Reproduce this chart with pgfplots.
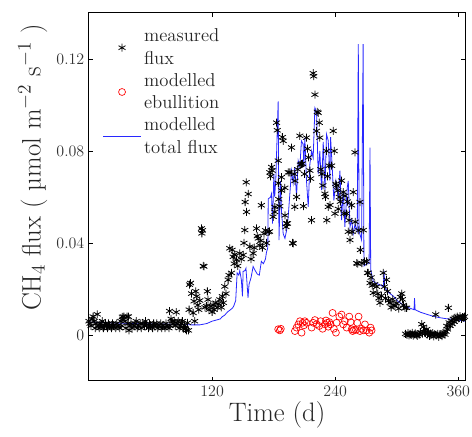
\documentclass[border=0pt]{standalone}
\usepackage{pgfplots}
\pgfplotsset{compat=1.18}
\definecolor{modelblue}{RGB}{40,40,255}
\definecolor{ebured}{RGB}{255,0,0}
\pgfplotsset{
  markleg/.style={legend image code/.code={\path (0cm,0cm) (1cm,0cm); \draw[##1] plot coordinates {(0.5cm,0cm)};}},
  lineleg/.style={legend image code/.code={\draw[##1] (0cm,0cm) -- (1cm,0cm);}},
}

\begin{document}
\begin{tikzpicture}
\begin{axis}[
  scale only axis, width=282pt, height=276pt,
  xmin=0, xmax=366.5, ymin=-0.02, ymax=0.14,
  xtick={120,240,360},
  ytick={0,0.04,0.08,0.12}, yticklabels={0,0.04,0.08,0.12},
  tick align=inside, tick pos=both, major tick length=3pt,
  axis line style={line width=0.75pt},
  tick style={line width=0.6pt, black},
  tick label style={font=\fontsize{12}{13}\selectfont, text=black!80},
  label style={font=\fontsize{20}{22}\selectfont, text=black!85},
  xlabel={Time (d)},
  ylabel={CH$_4$ flux ( µmol m$^{-2}$ s$^{-1}$ )},
  ylabel style={at={(ticklabel cs:0.58)}},
  xlabel style={yshift=3pt},
  legend style={draw=none, fill=none, at={(0.025,0.972)}, anchor=north west,
    font=\fontsize{14}{17}\selectfont, text=black!85, cells={align=left},
    row sep=1pt},
  legend cell align=left,
]
% measured flux
\addplot[only marks, mark=asterisk, mark size=3pt, black, line width=0.6pt, markleg]
coordinates {
(0,0.006)(1,0.005)(2,0.004)(3,0.007)(4,0.008)(5,0.006)(6,0.003)(7,0.005)(8,0.009)(9,0.004)
(10,0.003)(11,0.005)(12,0.004)(13,0.006)(14,0.003)(15,0.004)(16,0.005)(17,0.004)(18,0.003)(19,0.005)
(20,0.004)(22,0.003)(23,0.005)(24,0.004)(26,0.003)(27,0.005)(28,0.004)(30,0.003)(31,0.006)(32,0.004)
(32.5,0.0079)(33,0.007)(34,0.008)(35,0.006)(36,0.003)(37,0.008)(38,0.005)(38.4,0.008)(39,0.002)(40,0.004)
(41,0.005)(42,0.003)(44,0.004)(45,0.005)(46,0.006)(47,0.003)(48,0.004)(50,0.005)(51,0.003)(52,0.005)
(54,0.004)(55,0.006)(56,0.004)(58,0.003)(59,0.005)(60,0.004)(62,0.003)(63,0.005)(64,0.004)(66,0.005)
(67,0.003)(68,0.004)(70,0.005)(71,0.003)(72,0.004)(74,0.003)(75,0.005)(76,0.004)(78,0.003)(78.5,0.0104)
(79,0.004)(80,0.007)(81,0.006)(82,0.005)(83,0.006)(84,0.004)(85,0.0099)(86,0.005)(87,0.006)(88,0.003)
(89,0.004)(90,0.005)(91,0.006)(92,0.003)(93,0.004)(94,0.0025)(95,0.002)(96,0.0053)(97,0.002)(97.6,0.011)
(98,0.0219)(99,0.0226)(100,0.018)(101.5,0.0096)(102.4,0.0147)(103,0.006)(104,0.019)(105,0.0168)(106,0.013)(107,0.011)
(108,0.015)(109.6,0.0463)(110,0.0442)(110.6,0.0455)(111.3,0.030)(112,0.0298)(113,0.012)(114.5,0.0125)(115.4,0.019)(116,0.0154)
(117,0.011)(118.7,0.0125)(120,0.010)(121,0.013)(122,0.011)(123.6,0.014)(125,0.012)(126,0.0135)(127.5,0.0154)(129,0.012)
(130,0.0168)(131,0.014)(132.4,0.0211)(133.5,0.018)(135.6,0.024)(136.5,0.026)(137.2,0.0377)(138.9,0.027)(139.5,0.037)(140.5,0.034)
(141.5,0.031)(142,0.035)(143.8,0.0326)(145,0.030)(147,0.0355)(148.5,0.033)(150.3,0.0348)(151,0.040)(151.9,0.0456)(153.5,0.0535)
(152.2,0.0578)(155.2,0.0613)(153.2,0.0664)(156.8,0.0384)(158,0.033)(160,0.0355)(161,0.038)(163.3,0.0463)(164,0.043)(165,0.042)
(166.5,0.039)(167.5,0.041)(168,0.0564)(169,0.038)(170.5,0.0441)(172,0.0455)(173,0.040)(174.7,0.0448)(176,0.045)(176.3,0.0707)
(177,0.069)(178,0.073)(178.5,0.0715)(179.5,0.0514)(181.1,0.0535)(181.2,0.0556)(182.8,0.0923)(183.5,0.089)(184.4,0.0758)(184.6,0.066)
(185,0.059)(186,0.056)(187.6,0.0686)(187.7,0.0628)(188.5,0.086)(189.3,0.0844)(190.9,0.064)(191,0.052)(192,0.047)(192.5,0.0485)
(193.5,0.0485)(194.2,0.0707)(195.8,0.0707)(197.4,0.0815)(198.5,0.040)(199,0.0398)(200,0.070)(200.6,0.0557)(200.7,0.067)(202.3,0.060)
(203.5,0.072)(205.5,0.0866)(206,0.074)(207.1,0.0743)(208,0.0745)(209,0.056)(210,0.070)(212,0.0858)(213,0.081)(214,0.0772)
(215.3,0.0715)(216,0.068)(216.9,0.0499)(218.5,0.1138)(219,0.1125)(220.2,0.1045)(221.8,0.0887)(222.5,0.097)(223.4,0.0966)(224.5,0.0923)
(225,0.0858)(226,0.072)(227,0.070)(228,0.065)(229.9,0.0614)(230.5,0.060)(231.5,0.080)(231.8,0.0499)(232.5,0.069)(233.2,0.0557)
(234,0.0736)(235,0.0565)(236.5,0.0736)(238,0.0887)(239,0.080)(239.7,0.0528)(240.5,0.0657)(241.3,0.065)(242.5,0.0628)(243,0.0548)
(244,0.060)(245,0.058)(246.2,0.0671)(247.8,0.0621)(248.5,0.0528)(249.5,0.0605)(251.1,0.0528)(252,0.058)(252.7,0.0449)(253.5,0.0499)
(254.4,0.0413)(256,0.0564)(256.5,0.0449)(257.6,0.0621)(259.2,0.0794)(259.5,0.0492)(260.9,0.0312)(262,0.031)(263,0.0455)(264.1,0.0578)
(264.5,0.037)(266,0.0312)(267.4,0.0456)(268.5,0.032)(270.6,0.032)(271.5,0.027)(272.2,0.027)(273.9,0.0226)(275,0.025)(276,0.0215)
(277.1,0.0183)(278.5,0.022)(280.4,0.021)(281.5,0.018)(282.5,0.016)(283.6,0.014)(285,0.017)(286.9,0.027)(288,0.021)(289,0.016)
(290,0.024)(291,0.019)(292,0.015)(293.4,0.014)(294.5,0.012)(296,0.0155)(297,0.013)(298.3,0.0126)(300,0.0138)(302,0.0115)
(303.5,0.0165)(304.8,0.018)(305.5,0.0155)(306.5,0.013)(308,0.0118)(309.6,0.0118)
(308.5,0.0005)(310,0.0)(311,0.0008)(312,-0.0002)(313,0.0005)(314,0.0001)(315,0.0009)(316,-0.0003)(317,0.0003)(318,0.0007)
(319,0.0)(320,-0.0004)(321,0.0004)(322,0.0002)(323,0.0011)(324.3,0.0047)(325,0.0006)(326,0.0035)(327,0.0012)(328,0.0008)
(329.2,0.0025)(330,0.0003)(331,0.001)(332,-0.0004)(333,0.0006)(334,0.0002)(335,0.0008)(336,-0.0006)(337,0.0004)(338,0.0089)
(339,-0.0002)(340,0.0005)(341,-0.0008)(342,0.0003)(343,0.0001)(344,-0.0005)(345,0.0004)(346,0.0011)(347,0.0002)(348,0.0015)
(348.7,0.0039)(349.5,0.0025)(350.3,0.0118)(351,0.0054)(352,0.004)(353,0.0062)(354,0.0048)(355,0.007)(356,0.0058)(356.8,0.0075)
(358,0.0066)(359,0.008)(360,0.0072)(361.7,0.0082)(363,0.007)(364,0.0078)(365,0.0075)(366,0.008)
};
\addlegendentry{measured\\flux}
% modelled ebullition
\addplot[only marks, mark=o, mark size=2.6pt, ebured, line width=0.5pt, markleg]
coordinates {
(184.4,0.0025)(186,0.002)(187,0.0027)(200.7,0.0017)(202.3,0.0032)(204,0.0046)(205.6,0.006)(207.2,0.001)(208.2,0.0053)(209.5,0.0042)
(210.4,0.006)(212,0.0053)(217,0.0032)(218.6,0.0053)(220.2,0.0065)(221.8,0.0047)(224.4,0.0039)(225.7,0.006)(227.7,0.0027)(230,0.0046)
(231,0.0063)(232.2,0.0053)(233.2,0.0036)(234.2,0.0056)(235.5,0.0046)(237.4,0.0096)(238.7,0.0027)(240.7,0.001)(241.3,0.0053)(244,0.008)
(246.2,0.0089)(247.8,0.0046)(249.4,0.006)(251.1,0.0032)(253.7,0.008)(255,0.0056)(256,0.0025)(257,0.0017)(258.3,0.0022)(260.2,0.0022)
(261.5,0.0053)(262.8,0.008)(264.1,0.0017)(265.7,0.0027)(267.4,0.002)(269,0.0046)(270.6,0.002)(273.2,0.001)(274.5,0.0032)(275.5,0.002)
};
\addlegendentry{modelled\\ebullition}
% modelled total flux
\addplot[modelblue, line width=0.6pt, mark=none, lineleg]
coordinates {
(0,0.0056)(20,0.0053)(40,0.005)(60,0.0048)(80,0.0047)(100,0.0044)(108,0.0044)(115,0.005)(120,0.006)(125,0.0066)
(128,0.007)(130,0.008)(132,0.0085)(135,0.010)(138,0.011)(140,0.0118)(141,0.0125)(143,0.015)(144.4,0.027)(146,0.026)
(147,0.028)(148.5,0.024)(149.6,0.0168)(150.2,0.0276)(152,0.028)(153,0.029)(155,0.0162)(156,0.022)(158,0.025)(160,0.0298)
(162,0.028)(164,0.0265)(166,0.026)(168,0.032)(170,0.031)(172,0.033)(173,0.036)(174.3,0.038)(174.7,0.0592)(176.9,0.0599)
(177.9,0.0614)(178.9,0.0484)(180.2,0.070)(181,0.060)(182.1,0.068)(184.4,0.1016)(185.2,0.0413)(186.7,0.067)(187.6,0.054)(189.3,0.044)
(191,0.042)(192.6,0.0455)(194.1,0.051)(197.4,0.0715)(199,0.066)(200.6,0.073)(202.3,0.060)(203.9,0.0758)(205.5,0.073)(207.1,0.0844)
(208.7,0.083)(209.4,0.073)(210.4,0.0858)(212,0.067)(213.7,0.0557)(215.3,0.0743)(217,0.080)(218.5,0.077)(220.2,0.0988)(221.8,0.097)
(223.4,0.070)(225,0.080)(226.7,0.063)(228.3,0.084)(230,0.063)(231.5,0.0873)(233.2,0.0845)(234.8,0.0672)(235.5,0.086)(237.4,0.070)
(238.7,0.0585)(240.7,0.067)(243,0.060)(244.6,0.0715)(246.2,0.050)(247.8,0.063)(249.4,0.047)(251.7,0.064)(252.7,0.067)(254.4,0.047)
(256,0.050)(257.6,0.044)(259.2,0.048)(261.5,0.045)(262.5,0.1265)(263.3,0.045)(265.7,0.0413)(267.2,0.1265)(268,0.030)(270.6,0.031)
(273,0.031)(273.9,0.0815)(274.6,0.0284)(277.1,0.0233)(280,0.0225)(283.6,0.0218)(286.9,0.021)(287.6,0.028)(288.4,0.0205)(292,0.0185)
(296.6,0.0169)(301,0.0147)(306.4,0.013)(312,0.0118)(316.8,0.011)(317.3,0.016)(317.9,0.011)(323,0.0099)(329.2,0.009)(335,0.0082)
(342.2,0.0075)(348,0.0071)(355.2,0.0068)(366.5,0.006)
};
\addlegendentry{modelled\\total flux}
\end{axis}
\pgfresetboundingbox
\path ([xshift=-66.75pt,yshift=-42pt]current axis.south west) rectangle ([xshift=5.25pt,yshift=9.75pt]current axis.north east);
\end{tikzpicture}
\end{document}
